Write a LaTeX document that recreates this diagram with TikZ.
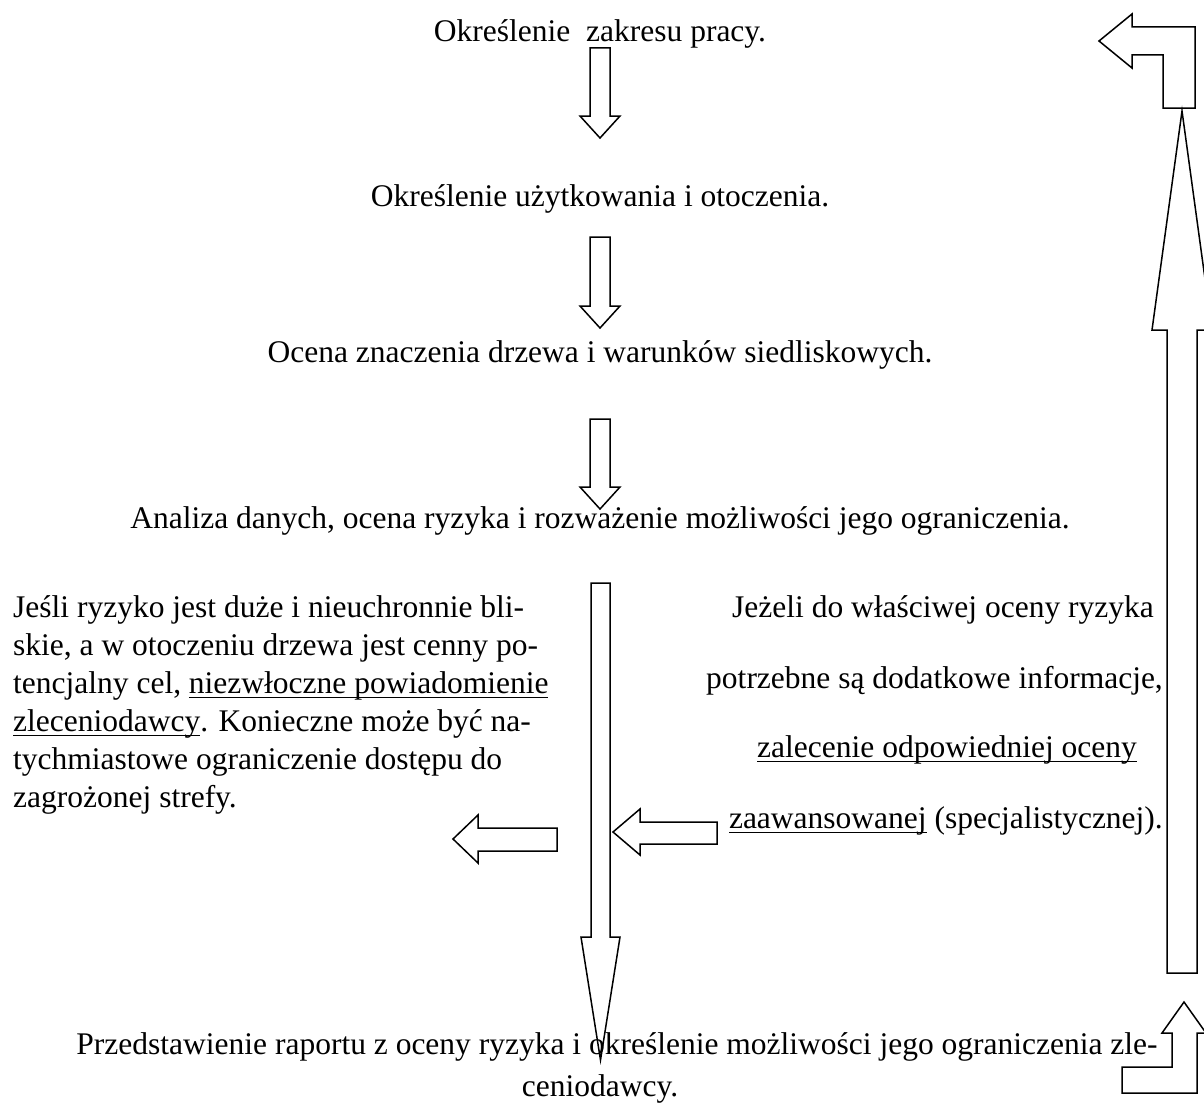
\documentclass[tikz,border=0pt]{standalone}
\usepackage{fontspec}
\setmainfont{Liberation Serif}
\newsavebox\myulbox
\newcommand\myul[1]{\sbox\myulbox{#1}\rlap{\rule[-5pt]{\wd\myulbox}{1.5pt}}\usebox\myulbox}
\tikzset{
  txt/.style={inner sep=0pt, font=\fontsize{31.5}{38}\selectfont},
  blk/.style={draw=black, line width=1.5pt, line join=miter, miter limit=20}
}
\begin{document}
\begin{tikzpicture}[x=1pt,y=-1pt]
\useasboundingbox (0,0) rectangle (1204,1108);
% main flow texts
\node[txt, anchor=base] (t1) at (600,42) {Określenie\ \ zakresu pracy.};
\node[txt, anchor=base] (t2) at (600,206) {Określenie użytkowania i otoczenia.};
\node[txt, anchor=base] (t3) at (600,362) {Ocena znaczenia drzewa i warunków siedliskowych.};
\node[txt, anchor=base] (t4) at (600,528) {Analiza danych, ocena ryzyka i rozważenie możliwości jego ograniczenia.};
% left paragraph
\node[txt, anchor=base west] (l1) at (13,617) {Jeśli ryzyko jest duże i nieuchronnie bli-};
\node[txt, anchor=base west] (l2) at (13,655) {skie, a w otoczeniu drzewa jest cenny po-};
\node[txt, anchor=base west] (l3) at (13,693) {tencjalny cel, \myul{niezwłoczne powiadomienie}};
\node[txt, anchor=base west] (l4) at (13,731) {\myul{zleceniodawcy}. Konieczne może być na-};
\node[txt, anchor=base west] (l5) at (13,769) {tychmiastowe ograniczenie dostępu do};
\node[txt, anchor=base west] (l6) at (13,807) {zagrożonej strefy.};
% right paragraph
\node[txt, anchor=base east] (r1) at (1154,617) {Jeżeli do właściwej oceny ryzyka};
\node[txt, anchor=base east] (r2) at (1163,688) {potrzebne są dodatkowe informacje,};
\node[txt, anchor=base east] (r3) at (1137,757) {\myul{zalecenie odpowiedniej oceny}};
\node[txt, anchor=base east] (r4) at (1163,828) {\myul{zaawansowanej} (specjalistycznej).};
% bottom
\node[txt, anchor=base] (b1) at (617,1054) {Przedstawienie raportu z oceny ryzyka i określenie możliwości jego ograniczenia zle-};
\node[txt, anchor=base] (b2) at (600,1096) {ceniodawcy.};
% block arrows
\begin{scope}
\clip (0,0) rectangle (1204,1108);
\draw[blk] (590,48) -- (610,48) -- (610,116) -- (620,116) -- (600,138) -- (580,116) -- (590,116) -- cycle;
\draw[blk] (590,237) -- (610,237) -- (610,306) -- (620,306) -- (600,328) -- (580,306) -- (590,306) -- cycle;
\draw[blk] (590,419) -- (610,419) -- (610,487) -- (620,487) -- (600,509) -- (580,487) -- (590,487) -- cycle;
\draw[blk] (591,583) -- (610,583) -- (610,937) -- (620,937) -- (600.5,1060) -- (581,937) -- (591,937) -- cycle;
\draw[blk] (557,828) -- (478,828) -- (478,815) -- (453,839) -- (478,863) -- (478,851) -- (557,851) -- cycle;
\draw[blk] (717,822) -- (640,822) -- (640,809) -- (613,832) -- (640,855) -- (640,844) -- (717,844) -- cycle;
\draw[blk] (1167,973) -- (1167,330) -- (1152,330) -- (1182,111) -- (1212,330) -- (1197,330) -- (1197,973) -- cycle;
\draw[blk] (1099,41) -- (1132,14) -- (1132,27) -- (1195,27) -- (1195,108) -- (1163,108) -- (1163,55) -- (1132,55) -- (1132,68) -- cycle;
\draw[blk] (1184,1002) -- (1206,1033) -- (1197,1033) -- (1197,1093) -- (1122,1093) -- (1122,1067) -- (1172,1067) -- (1172,1033) -- (1162,1033) -- cycle;
\end{scope}
\end{tikzpicture}
\end{document}
